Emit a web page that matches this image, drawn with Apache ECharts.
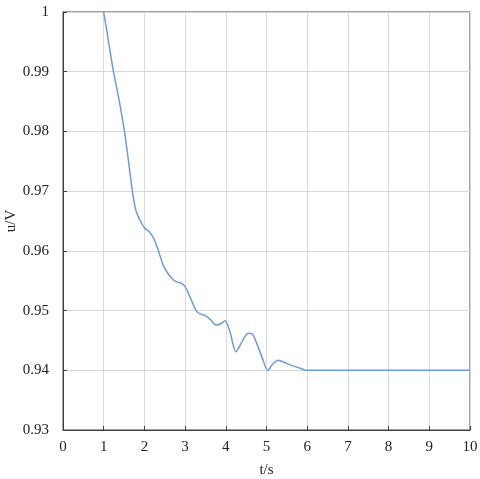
<!DOCTYPE html>
<html>
<head>
<meta charset="utf-8">
<script src="https://cdn.jsdelivr.net/npm/echarts@6/dist/echarts.min.js"></script>
<style>
  html, body { margin: 0; padding: 0; background: #fff; }
  #chart { width: 480px; height: 479px; }
</style>
</head>
<body>
<div id="chart"></div>
<script>
// time (s) and voltage (per unit)
const tValues = [1, 1.12, 1.24, 1.38, 1.51, 1.6, 1.7, 1.79, 1.9, 2.01, 2.12, 2.22, 2.34, 2.45, 2.55, 2.67, 2.79, 2.9, 3.0, 3.12, 3.2, 3.28, 3.38, 3.49, 3.62, 3.76, 3.88, 3.98, 4.1, 4.25, 4.4, 4.55, 4.66, 4.76, 4.9, 5.03, 5.15, 5.29, 5.45, 5.58, 5.8, 6.0, 7, 8, 9, 10]
const uValues = [1, 0.995, 0.99, 0.9852, 0.98, 0.9755, 0.9702, 0.9668, 0.965, 0.9638, 0.9632, 0.9622, 0.9601, 0.9578, 0.9565, 0.9554, 0.9548, 0.9546, 0.954, 0.9523, 0.951, 0.9499, 0.9494, 0.9492, 0.9485, 0.9476, 0.9478, 0.9483, 0.9465, 0.9431, 0.9448, 0.9462, 0.946, 0.9445, 0.942, 0.94, 0.941, 0.9417, 0.9413, 0.9409, 0.9404, 0.94, 0.94, 0.94, 0.94, 0.94]

const chart = echarts.init(document.getElementById('chart'))
const font = 'Liberation Serif'

const option = {
  animation: false,
  grid: {
    left: 63, right: 10, top: 12, bottom: 49,
    outerBoundsMode: 'none',
    containLabel: false,
    show: true, borderColor: '#404040', borderWidth: 1
  },
  xAxis: {
    type: 'value',
    min: 0, max: 10, interval: 1,
    name: 't/s',
    nameLocation: 'middle',
    nameGap: 33,
    nameMoveOverlap: false,
    nameTextStyle: { fontFamily: font, fontSize: 15, color: '#222' },
    axisLine: { show: true, lineStyle: { color: '#404040', width: 1 } },
    axisTick: { show: true, inside: true, length: 4, lineStyle: { color: '#404040' } },
    axisLabel: { fontFamily: font, fontSize: 15, color: '#222', margin: 10 },
    splitLine: { show: true, lineStyle: { color: '#d9d9d9', width: 1 } }
  },
  yAxis: {
    type: 'value',
    min: 0.93, max: 1, interval: 0.01,
    name: 'u/V',
    nameLocation: 'middle',
    nameGap: 44,
    nameRotate: 90,
    nameMoveOverlap: false,
    nameTextStyle: { fontFamily: font, fontSize: 15, color: '#222' },
    axisLine: { show: true, lineStyle: { color: '#404040', width: 1 } },
    axisTick: { show: true, inside: true, length: 4, lineStyle: { color: '#404040' } },
    axisLabel: {
      fontFamily: font, fontSize: 15, color: '#222', margin: 14,
      formatter: v => String(parseFloat(v.toFixed(2)))
    },
    splitLine: { show: true, lineStyle: { color: '#d9d9d9', width: 1 } }
  },
  series: [
    {
      type: 'line',
      data: tValues.map((t, i) => [t, uValues[i]]),
      smooth: 0.3,
      showSymbol: false,
      lineStyle: { color: '#6c9bd8', width: 1.5 }
    }
  ]
}
chart.setOption(option)
</script>
</body>
</html>
